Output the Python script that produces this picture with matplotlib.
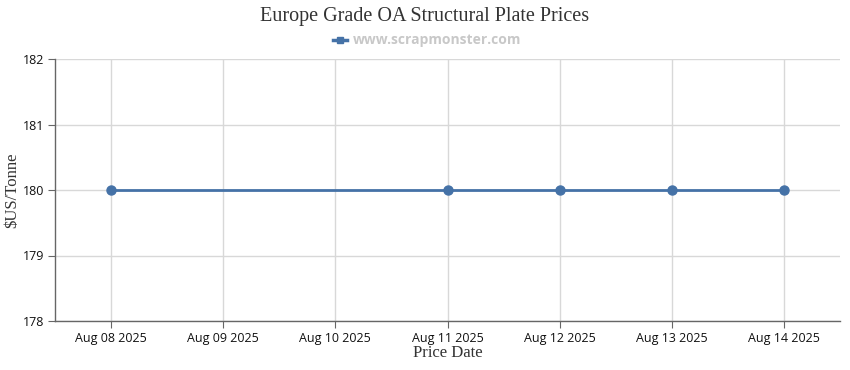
import pandas as pd
import matplotlib.pyplot as plt

# Data
tick_dates = ['2025-08-08', '2025-08-09', '2025-08-10', '2025-08-11',
              '2025-08-12', '2025-08-13', '2025-08-14']
price_dates = ['2025-08-08', '2025-08-11', '2025-08-12', '2025-08-13', '2025-08-14']
prices = [180, 180, 180, 180, 180]
y_ticks = [178, 179, 180, 181, 182]

ticks = pd.to_datetime(tick_dates)
x = pd.to_datetime(price_dates)

fig = plt.figure(figsize=(8.5, 3.7), dpi=100)
ax = fig.add_axes([55 / 850, 1 - 321 / 370, 785 / 850, 262 / 370])

line_color = '#4572A7'
ax.plot(x, prices, color=line_color, linewidth=2, marker='o', markersize=6.5, zorder=3)

ax.set_xlim(ticks[0] - pd.Timedelta(hours=12), ticks[-1] + pd.Timedelta(hours=12))
ax.set_ylim(178, 182)
ax.set_xticks(ticks)
ax.set_xticklabels([d.strftime('%b %d %Y') for d in ticks])
ax.set_yticks(y_ticks)

tick_font = 'Open Sans'
for lab in ax.get_xticklabels() + ax.get_yticklabels():
    lab.set_family(tick_font)

ax.grid(True, color='#d8d8d8', linewidth=1)
ax.set_axisbelow(True)
for s in ['top', 'right']:
    ax.spines[s].set_visible(False)
for s in ['left', 'bottom']:
    ax.spines[s].set_color('#666666')
    ax.spines[s].set_linewidth(1)
ax.tick_params(axis='x', length=5, color='#666666', labelsize=9, labelcolor='#111111', pad=3)
ax.tick_params(axis='y', length=5, color='#666666', labelsize=9, labelcolor='#111111', pad=3)

ax.set_xlabel('Price Date', family='Liberation Serif', fontsize=12, color='#333333')
ax.set_ylabel('$US/Tonne', family='Liberation Serif', fontsize=12, color='#333333')
ax.xaxis.set_label_coords(0.5, (321 - 353) / 262)
ax.yaxis.set_label_coords((12 - 55) / 785, 0.5)
ax.xaxis.label.set_va('center')
ax.yaxis.label.set_va('center')

fig.text(0.5, 1 - 16 / 370, 'Europe Grade OA Structural Plate Prices', ha='center', va='center',
         family='Liberation Serif', fontsize=14.5, color='#333333')

# legend
lx, ly = 333, 40
fig.add_artist(plt.Line2D([(lx) / 850, (lx + 14) / 850], [1 - ly / 370] * 2,
                          color=line_color, linewidth=2.5))
fig.add_artist(plt.Line2D([(lx + 7) / 850], [1 - ly / 370], color=line_color,
                          marker='s', markersize=5))
fig.text((lx + 20) / 850, 1 - ly / 370, 'www.scrapmonster.com', ha='left', va='center',
         family='Open Sans', fontsize=10, fontweight='bold', color='#c8c8c8')

plt.savefig('out.png')
